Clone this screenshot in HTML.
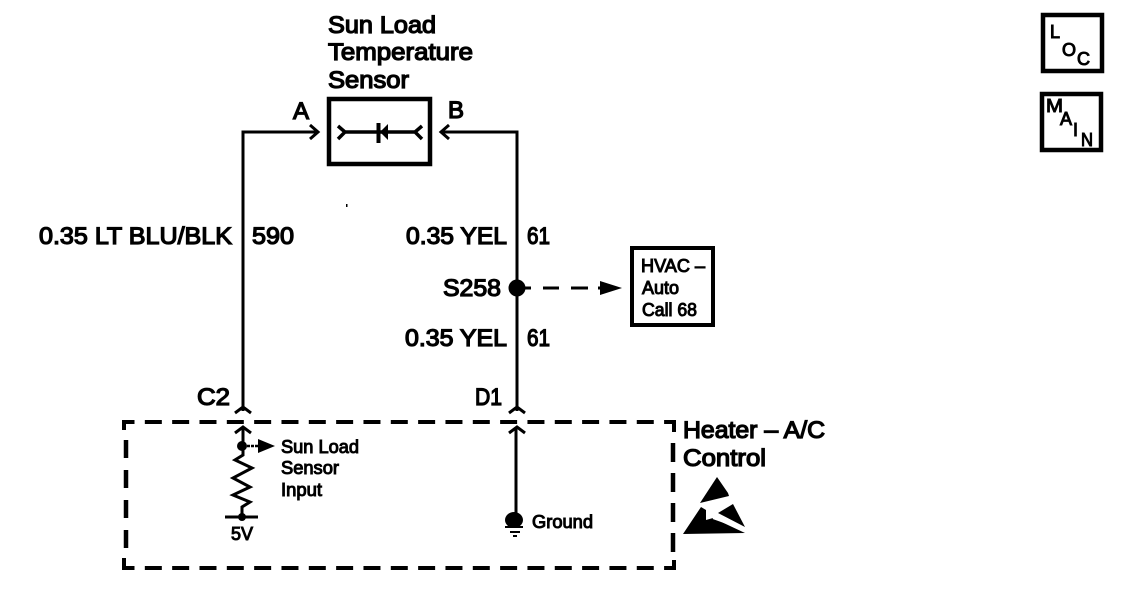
<!DOCTYPE html>
<html><head><meta charset="utf-8"><style>
html,body{margin:0;padding:0;background:#fff}
svg{display:block}
text{font-family:"Liberation Sans",Arial,sans-serif;fill:#000;stroke:#000;stroke-width:1.3px}
.l{font-size:24px}.m{font-size:18px;stroke-width:1px}
</style></head><body>
<svg width="1136" height="598" viewBox="0 0 1136 598" xmlns="http://www.w3.org/2000/svg">
<rect width="1136" height="598" fill="#fff"/>
<rect x="346" y="204" width="1.5" height="3" fill="#000"/>
<g fill="none" stroke="#000">
<rect x="329" y="99" width="101" height="65" stroke-width="4.5"/>
<path d="M338 126L345 132L338 139M345 132H415M422 126L415 132L422 139" stroke-width="3.5"/>
<path d="M378.5 123V143" stroke-width="4"/>
<path d="M243 411V132H316M310 125L318 132L310 139" stroke-width="3"/>
<path d="M517 411V132H442M449 125L441 132L449 139" stroke-width="3"/>
<path d="M235 413L243 407L251 413M509 413L517 407L525 413" stroke-width="3"/>
<path d="M235 433L243 427L251 433M509 433L517 427L525 433" stroke-width="3"/>
<path d="M243 427V455L235 460L252 468L233 478L250 487L233 495L250 502L242 507V517M225 517H258" stroke-width="3"/>
<path d="M516 427V515" stroke-width="3"/>
<path d="M505 527H523M510 532H520M513 536H517" stroke-width="2"/>
<path d="M243 446H262" stroke-width="2.5" stroke-dasharray="3 1"/>
<path d="M525 288H531M543 288H559M571 288H588M598 288H606" stroke-width="3"/>
<path d="M124 422H674M124 568H674" stroke-width="4" stroke-dasharray="17 10.33" stroke-dashoffset="6.5"/>
<path d="M126 440V555" stroke-width="4.5" stroke-dasharray="18 12"/>
<path d="M673 443V555" stroke-width="4.5" stroke-dasharray="19 11"/>
<path d="M124 430V422H130M124 558V568H130M674 432V422H666M674 560V568H666" stroke-width="4"/>
<rect x="632" y="248" width="81" height="77" stroke-width="4"/>
<rect x="1043" y="15" width="59" height="56" stroke-width="4.5"/>
<rect x="1042" y="94" width="59" height="56" stroke-width="4.5"/>
</g>
<path d="M388 124V140L380 132Z" fill="#000"/>
<circle cx="517" cy="288" r="8.5" fill="#000"/>
<circle cx="242" cy="446" r="5" fill="#000"/>
<circle cx="242" cy="517" r="4" fill="#000"/>
<path d="M258 439L275 446L258 453Z" fill="#000"/>
<path d="M600 281L622 288L600 295Z" fill="#000"/>
<ellipse cx="514" cy="520" rx="9" ry="8" fill="#000"/>
<path d="M717 477L728 493L729 496L700 503Z" fill="#000"/>
<path d="M683 534L701 507L706 510L706 520L713 518L745 533Z" fill="#000"/>
<path d="M733 504L745 527L718 513Z" fill="#000"/>
<path d="M713 518L744 529" stroke="#fff" stroke-width="2"/>
<text class="l" x="328" y="33" textLength="108" lengthAdjust="spacingAndGlyphs">Sun Load</text>
<text class="l" x="328" y="60" textLength="145" lengthAdjust="spacingAndGlyphs">Temperature</text>
<text class="l" x="328" y="88" textLength="81" lengthAdjust="spacingAndGlyphs">Sensor</text>
<text class="l" x="293" y="119">A</text>
<text class="l" x="448" y="118">B</text>
<text class="l" x="39" y="244" textLength="193" lengthAdjust="spacingAndGlyphs">0.35 LT BLU/BLK</text>
<text class="l" x="252" y="244" textLength="42" lengthAdjust="spacingAndGlyphs">590</text>
<text class="l" x="406" y="244" textLength="101" lengthAdjust="spacingAndGlyphs">0.35 YEL</text>
<text class="l" x="527" y="244" textLength="23" lengthAdjust="spacingAndGlyphs">61</text>
<text class="l" x="443" y="296" textLength="58" lengthAdjust="spacingAndGlyphs">S258</text>
<text class="l" x="405" y="346" textLength="102" lengthAdjust="spacingAndGlyphs">0.35 YEL</text>
<text class="l" x="527" y="346" textLength="23" lengthAdjust="spacingAndGlyphs">61</text>
<text class="l" x="197" y="405" textLength="33" lengthAdjust="spacingAndGlyphs">C2</text>
<text class="l" x="475" y="405" textLength="27" lengthAdjust="spacingAndGlyphs">D1</text>
<text class="l" x="683" y="438" textLength="142" lengthAdjust="spacingAndGlyphs">Heater – A/C</text>
<text class="l" x="683" y="466" textLength="83" lengthAdjust="spacingAndGlyphs">Control</text>
<text class="m" x="281" y="453" textLength="78" lengthAdjust="spacingAndGlyphs">Sun Load</text>
<text class="m" x="281" y="474" textLength="58" lengthAdjust="spacingAndGlyphs">Sensor</text>
<text class="m" x="281" y="496" textLength="41" lengthAdjust="spacingAndGlyphs">Input</text>
<text class="m" x="231" y="540" textLength="22" lengthAdjust="spacingAndGlyphs">5V</text>
<text class="m" x="532" y="528" textLength="61" lengthAdjust="spacingAndGlyphs">Ground</text>
<text class="m" x="641" y="272" textLength="64" lengthAdjust="spacingAndGlyphs">HVAC –</text>
<text class="m" x="642" y="294" textLength="37" lengthAdjust="spacingAndGlyphs">Auto</text>
<text class="m" x="642" y="316" textLength="55" lengthAdjust="spacingAndGlyphs">Call 68</text>
<text class="m" x="1050" y="38">L</text>
<text class="m" x="1062" y="56">O</text>
<text class="m" x="1077" y="65">C</text>
<text class="m" x="1046" y="112" textLength="17" lengthAdjust="spacingAndGlyphs">M</text>
<text class="m" x="1060" y="125">A</text>
<text class="m" x="1073" y="136">I</text>
<text class="m" x="1081" y="146" textLength="12" lengthAdjust="spacingAndGlyphs">N</text>
</svg>
</body></html>
